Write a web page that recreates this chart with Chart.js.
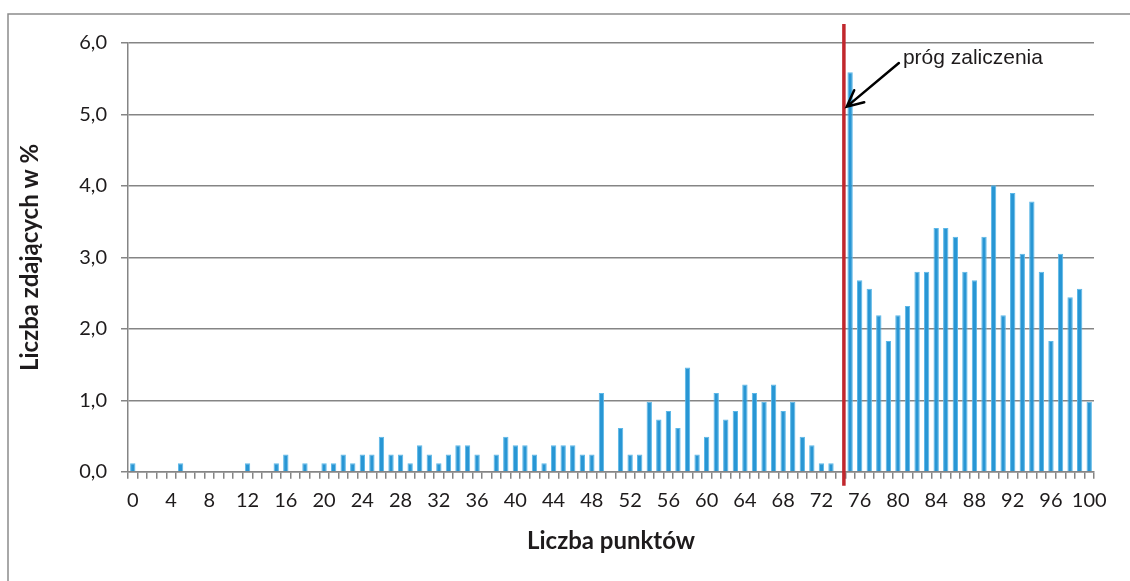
<!DOCTYPE html>
<html lang="pl">
<head>
  <meta charset="UTF-8">
  <title>Liczba zdających w % według liczby punktów</title>
  <script src="https://cdn.jsdelivr.net/npm/chart.js"></script>
  <style>
    html, body {
      margin: 0;
      padding: 0;
      background: #ffffff;
    }
    .wykres {
      width: 1130px;
      height: 581px;
    }
  </style>
</head>
<body>

  <div class="wykres">
    <canvas id="wykresPunkty"></canvas>
  </div>

  <script>
    // punkty 0..100
    const punkty = Array.from({ length: 101 }, (_, i) => String(i));

    // procent zdających dla każdej liczby punktów
    const procentZdajacych = [
      0.12, 0, 0, 0, 0, 0.12, 0, 0, 0, 0,
      0, 0, 0.12, 0, 0, 0.12, 0.24, 0, 0.12, 0,
      0.12, 0.12, 0.24, 0.12, 0.24, 0.24, 0.49, 0.24, 0.24, 0.12,
      0.37, 0.24, 0.12, 0.24, 0.37, 0.37, 0.24, 0, 0.24, 0.49,
      0.37, 0.37, 0.24, 0.12, 0.37, 0.37, 0.37, 0.24, 0.24, 1.10,
      0, 0.61, 0.24, 0.24, 0.98, 0.73, 0.85, 0.61, 1.46, 0.24,
      0.49, 1.10, 0.73, 0.85, 1.22, 1.10, 0.98, 1.22, 0.85, 0.98,
      0.49, 0.37, 0.12, 0.12, 0, 5.59, 2.68, 2.56, 2.19, 1.83,
      2.19, 2.32, 2.80, 2.80, 3.41, 3.41, 3.29, 2.80, 2.68, 3.29,
      4.01, 2.19, 3.90, 3.05, 3.78, 2.80, 1.83, 3.05, 2.44, 2.56,
      0.98
    ];

    // co ile punktów pokazywać etykietę na osi X
    const krokEtykiet = 4;

    // próg zaliczenia (pozycja linii na osi X) i opis strzałki
    const progZaliczenia = 74.35;
    const opisProgu = 'próg zaliczenia';
    const strzalkaGrot = { x: 74.65, y: 5.11 };
    const strzalkaStart = { x: 80.1, y: 5.72 };

    const kolorTekstu = '#1e1b1c';
    const kolorSiatki = '#858585';

    const tloIRamka = {
      id: 'tloIRamka',
      beforeDraw(chart) {
        const { ctx, width, height } = chart;
        ctx.save();
        ctx.fillStyle = '#ffffff';
        ctx.fillRect(0, 0, width, height);
        ctx.strokeStyle = '#8c8c8c';
        ctx.lineWidth = 1.5;
        ctx.beginPath();
        ctx.moveTo(8, height);
        ctx.lineTo(8, 14);
        ctx.lineTo(width, 14);
        ctx.stroke();
        ctx.restore();
      }
    };

    const liniaProgu = {
      id: 'liniaProgu',
      afterDatasetsDraw(chart) {
        const { ctx, scales: { x, y }, chartArea } = chart;
        const px = x.getPixelForValue(progZaliczenia);

        ctx.save();
        // czerwona linia progu
        ctx.strokeStyle = '#c1272d';
        ctx.lineWidth = 3.5;
        ctx.beginPath();
        ctx.moveTo(px, chartArea.top - 19);
        ctx.lineTo(px, chartArea.bottom + 14);
        ctx.stroke();

        // strzałka
        const gx = x.getPixelForValue(strzalkaGrot.x);
        const gy = y.getPixelForValue(strzalkaGrot.y);
        const sx = x.getPixelForValue(strzalkaStart.x);
        const sy = y.getPixelForValue(strzalkaStart.y);
        const kat = Math.atan2(sy - gy, sx - gx);
        const dl = 18;
        const roz = 0.45;
        ctx.strokeStyle = '#000000';
        ctx.lineWidth = 2.5;
        ctx.lineCap = 'round';
        ctx.beginPath();
        ctx.moveTo(sx, sy);
        ctx.lineTo(gx, gy);
        ctx.moveTo(gx + dl * Math.cos(kat - roz), gy + dl * Math.sin(kat - roz));
        ctx.lineTo(gx, gy);
        ctx.lineTo(gx + dl * Math.cos(kat + roz), gy + dl * Math.sin(kat + roz));
        ctx.stroke();

        // opis
        ctx.fillStyle = kolorTekstu;
        ctx.font = '21px "Liberation Sans", Arial, sans-serif';
        ctx.textAlign = 'left';
        ctx.textBaseline = 'alphabetic';
        ctx.fillText(opisProgu, sx + 4, sy + 1);
        ctx.restore();
      }
    };

    const ctx = document.getElementById('wykresPunkty').getContext('2d');

    new Chart(ctx, {
      type: 'bar',
      data: {
        labels: punkty,
        datasets: [{
          label: 'Liczba zdających w %',
          data: procentZdajacych,
          backgroundColor: '#2896d4',
          borderColor: '#5cb8e8',
          borderWidth: 1,
          borderSkipped: 'bottom',
          barPercentage: 0.56,
          categoryPercentage: 1.0
        }]
      },
      options: {
        responsive: true,
        maintainAspectRatio: false,
        animation: false,
        layout: {
          padding: { top: 43, right: 36, bottom: 0, left: 0 }
        },
        plugins: {
          legend: { display: false },
          tooltip: { enabled: false },
          title: { display: false }
        },
        scales: {
          x: {
            offset: true,
            grid: {
              offset: true,
              drawOnChartArea: false,
              drawTicks: true,
              tickLength: 7,
              color: kolorSiatki,
              lineWidth: 1.5
            },
            border: { color: kolorSiatki, width: 1.5 },
            ticks: {
              autoSkip: false,
              maxRotation: 0,
              minRotation: 0,
              padding: 10,
              color: kolorTekstu,
              font: { family: 'Lato', size: 20 },
              callback: function (value, index) {
                return index % krokEtykiet === 0 ? this.getLabelForValue(value) : '';
              }
            },
            title: {
              display: true,
              text: 'Liczba punktów',
              color: kolorTekstu,
              font: { family: 'Lato', size: 24, weight: 'bold' },
              padding: { top: 0, bottom: 25 }
            },
            afterFit: function (scale) {
              scale.height = 109.3;
            }
          },
          y: {
            min: 0,
            max: 6,
            grid: {
              color: kolorSiatki,
              lineWidth: 1.5,
              tickLength: 7
            },
            border: { color: kolorSiatki, width: 1.5 },
            ticks: {
              stepSize: 1,
              padding: 14,
              color: kolorTekstu,
              font: { family: 'Lato', size: 20 },
              callback: function (value) {
                return value.toFixed(1).replace('.', ',');
              }
            },
            title: {
              display: true,
              text: 'Liczba zdających w %',
              color: kolorTekstu,
              font: { family: 'Lato', size: 24, weight: 'bold' },
              padding: { top: 16, bottom: 0 }
            },
            afterFit: function (scale) {
              scale.width = 128;
            }
          }
        }
      },
      plugins: [tloIRamka, liniaProgu]
    });
  </script>

</body>
</html>
